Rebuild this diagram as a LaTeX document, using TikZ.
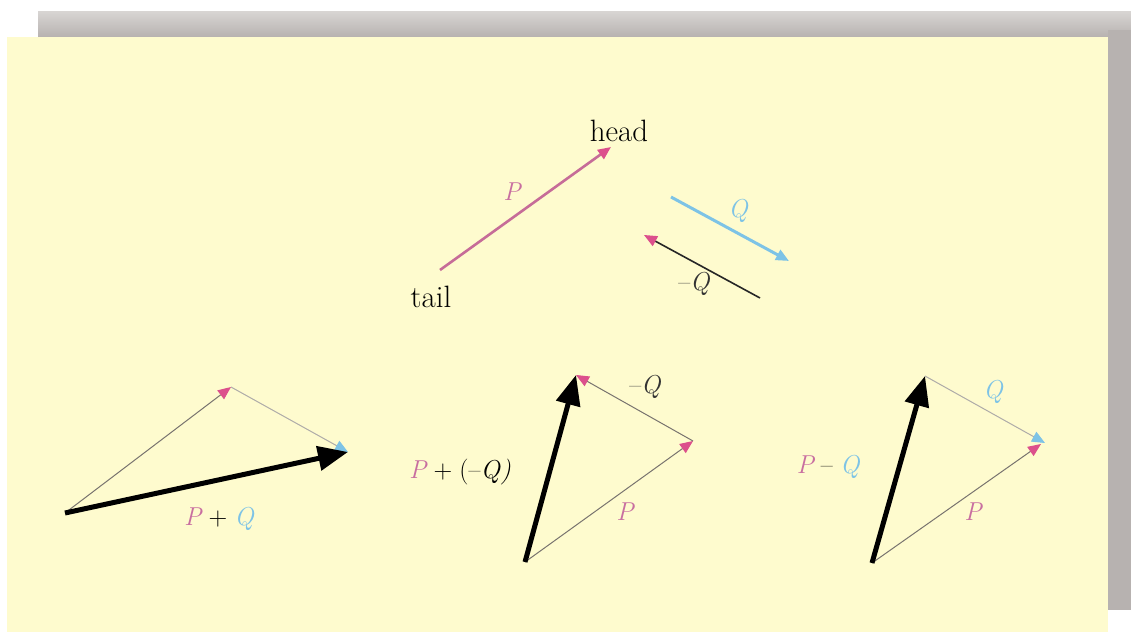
\documentclass[tikz,border=0pt]{standalone}
\usetikzlibrary{arrows.meta}
\definecolor{bgyellow}{RGB}{254,251,206}
\definecolor{shadowgray}{RGB}{183,178,176}
\definecolor{shadowlight}{RGB}{215,212,210}
\definecolor{pinkc}{RGB}{198,108,152}
\definecolor{pinktip}{RGB}{220,80,140}
\definecolor{plabel}{RGB}{200,110,160}
\definecolor{bluec}{RGB}{125,195,230}
\definecolor{thinline}{RGB}{120,115,110}
\newcommand{\gapsp}{\hspace{0.28em}}
\begin{document}
\begin{tikzpicture}[x=1bp,y=-1bp,
  lbl/.style={inner sep=0pt, font=\fontsize{26}{30}\selectfont},
  word/.style={inner sep=0pt, font=\fontsize{31}{34}\selectfont},
  pvec/.style={line width=2.6bp, pinkc, -{Triangle[length=13bp,width=11bp,color=pinktip]}},
  qvec/.style={line width=3bp, bluec, -{Triangle[length=13bp,width=11bp,color=bluec]}},
  negq/.style={line width=1.6bp, black!85, -{Triangle[length=13bp,width=11bp,color=pinktip]}},
  thinp/.style={line width=1bp, thinline, -{Triangle[length=13bp,width=11bp,color=pinktip]}},
  thinq/.style={line width=1bp, thinline!60, -{Triangle[length=13bp,width=11bp,color=bluec]}},
  resvec/.style={line width=5bp, black, -{Triangle[length=30bp,width=24bp]}}
]
\useasboundingbox (0,0) rectangle (1131,632);
\fill[white] (0,0) rectangle (1131,632);
% shadow
\shade[top color=shadowlight, bottom color=shadowgray] (38,12) rectangle (1131,37);
\fill[shadowgray] (1108,30) rectangle (1131,610);
% panel
\fill[bgyellow] (7,37) rectangle (1108,632);

% top: P vector
\coordinate (pt) at (440,270);
\coordinate (ph) at (611,147);
\draw[pvec] (pt) -- (ph);
\node[word] (head) at (619,131) {head};
\node[word] (tail) at (431,297) {tail};
\node[lbl, plabel] (plab) at (512,192) {\itshape P};

% Q and -Q
\coordinate (qt) at (671,197);
\coordinate (qh) at (789,261);
\draw[qvec] (qt) -- (qh);
\node[lbl, bluec] (qlab) at (738,211) {\itshape Q};
\coordinate (nqt) at (760,298);
\coordinate (nqh) at (644,235);
\draw[negq] (nqt) -- (nqh);
\node[lbl, black!80] (nqlab) at (694,284) {--\itshape Q};

% bottom left: P + Q
\coordinate (o1) at (65,513);
\coordinate (a1) at (231,387);
\coordinate (b1) at (348,452);
\draw[thinp] (o1) -- (a1);
\draw[thinq] (a1) -- (b1);
\draw[resvec] (o1) -- (b1);
\node[lbl] (s1) at (219,519) {\textcolor{plabel}{\itshape P}\gapsp+\gapsp\textcolor{bluec}{\itshape Q}};

% bottom middle: P + (-Q)
\coordinate (o2) at (525,562);
\coordinate (a2) at (693,441);
\coordinate (b2) at (576,375);
\draw[thinp] (o2) -- (a2);
\draw[thinp] (a2) -- (b2);
\draw[resvec] (o2) -- (b2);
\node[lbl, black!80] (nq2) at (645,387) {--\itshape Q};
\node[lbl, plabel] (p2) at (625,512) {\itshape P};
\node[lbl] (s2) at (460,472) {\textcolor{plabel}{\itshape P}\gapsp+\gapsp(--\itshape Q\/)};

% bottom right: P - Q
\coordinate (o3) at (872,563);
\coordinate (a3) at (1041,444);
\coordinate (b3) at (925,376);
\coordinate (c3) at (1045,443);
\draw[thinp] (o3) -- (a3);
\draw[thinq] (b3) -- (c3);
\draw[resvec] (o3) -- (b3);
\node[lbl, bluec] (q3) at (993,392) {\itshape Q};
\node[lbl, plabel] (p3) at (973,512) {\itshape P};
\node[lbl] (s3) at (828,467) {\textcolor{plabel}{\itshape P}\gapsp--\gapsp\textcolor{bluec}{\itshape Q}};
\end{tikzpicture}
\end{document}
